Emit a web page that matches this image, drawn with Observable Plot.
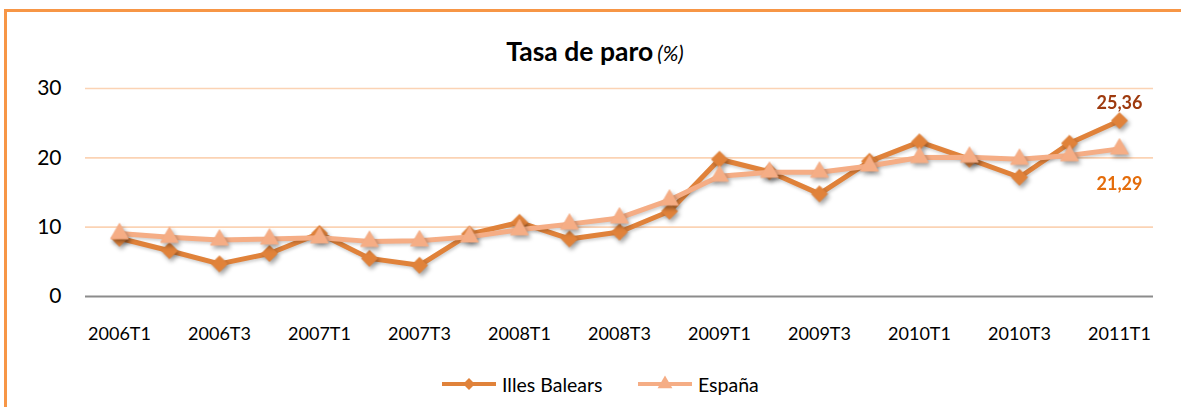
<!DOCTYPE html>
<html>
<head>
<meta charset="utf-8">
<script src="https://cdn.jsdelivr.net/npm/d3@7"></script>
<script src="https://cdn.jsdelivr.net/npm/@observablehq/plot@0.6"></script>
<style>
  html, body { margin: 0; padding: 0; background: #fff; width: 1181px; height: 407px; overflow: hidden; font-family: Lato, "Open Sans", sans-serif; }
  #frame { position: absolute; left: 4px; top: 9px; width: 1400px; height: 600px; border-left: 3px solid #F79646; border-top: 3px solid #F79646; }
  #title { position: absolute; left: 0; width: 1190px; top: 35px; text-align: center; color: #000; white-space: nowrap; }
  #title .main { font-weight: 700; font-size: 26.5px; }
  #title .unit { font-style: italic; font-size: 21px; }
  #chart { position: absolute; left: 0; top: 60px; }
  .leg { position: absolute; top: 372px; display: flex; align-items: center; font-size: 19.5px; color: #000; white-space: nowrap; }
  .leg svg { margin-right: 6px; }
</style>
</head>
<body>
<div id="frame"></div>
<div id="title"><span class="main">Tasa de paro</span> <span class="unit">(%)</span></div>
<div id="chart"></div>
<div id="legend"></div>
<script>
const categories = ["2006T1","2006T2","2006T3","2006T4","2007T1","2007T2","2007T3","2007T4",
  "2008T1","2008T2","2008T3","2008T4","2009T1","2009T2","2009T3","2009T4",
  "2010T1","2010T2","2010T3","2010T4","2011T1"];
const xTickLabels = ["2006T1","2006T3","2007T1","2007T3","2008T1","2008T3","2009T1","2009T3","2010T1","2010T3","2011T1"];
const yTicks = [0, 10, 20, 30];
const seriesNames = ["Illes Balears", "España"];
const balears = [8.4, 6.6, 4.7, 6.2, 9.1, 5.5, 4.5, 9.0, 10.7, 8.3, 9.3, 12.3, 19.8, 18.0, 14.8, 19.5, 22.3, 19.8, 17.2, 22.1, 25.36];
const espana = [9.07, 8.53, 8.15, 8.30, 8.47, 7.95, 8.03, 8.60, 9.63, 10.44, 11.33, 13.91, 17.36, 17.92, 17.93, 18.83, 20.05, 20.09, 19.79, 20.33, 21.29];

const colBal = "#E0823A";
const colEsp = "#F5AD85";

const dataBal = categories.map((c, i) => ({cat: c, v: balears[i]}));
const dataEsp = categories.map((c, i) => ({cat: c, v: espana[i]}));
const fmt = v => v.toFixed(2).replace(".", ",");
const lastBal = [dataBal[dataBal.length - 1]];
const lastEsp = [dataEsp[dataEsp.length - 1]];

const plot = Plot.plot({
  width: 1181,
  height: 290,
  marginLeft: 85,
  marginRight: 28,
  marginTop: 28,
  marginBottom: 54,
  style: { fontFamily: "Lato, 'Open Sans', sans-serif", background: "transparent", overflow: "visible" },
  x: { type: "point", domain: categories, padding: 0.5, label: null },
  y: { domain: [0, 30], label: null },
  marks: [
    Plot.ruleY(yTicks.filter(t => t > 0), { stroke: "#FBD3B4", strokeWidth: 1.6 }),
    Plot.ruleY([0], { stroke: "#8C8C8C", strokeWidth: 2 }),
    Plot.axisX({ ticks: xTickLabels, tickSize: 0, tickPadding: 31, fontSize: 18, fill: "#000", label: null }),
    Plot.axisY({ ticks: yTicks, tickSize: 0, tickPadding: 24, fontSize: 21, fill: "#000", label: null }),
    Plot.line(dataBal, { x: "cat", y: "v", stroke: colBal, strokeWidth: 5, strokeLinejoin: "miter" }),
    Plot.dot(dataBal, { x: "cat", y: "v", symbol: "diamond2", r: 7.2, fill: colBal, stroke: colBal, strokeWidth: 1 }),
    Plot.line(dataEsp, { x: "cat", y: "v", stroke: colEsp, strokeWidth: 5, strokeLinejoin: "miter" }),
    Plot.dot(dataEsp, { x: "cat", y: "v", symbol: "triangle", r: 6.6, fill: colEsp, stroke: colEsp, strokeWidth: 1 }),
    Plot.text(lastBal, { x: "cat", y: "v", text: d => fmt(d.v), dy: -17, fill: "#9E3A0E", fontSize: 18, fontWeight: "bold" }),
    Plot.text(lastEsp, { x: "cat", y: "v", text: d => fmt(d.v), dy: 35, fill: "#E46C0A", fontSize: 18, fontWeight: "bold" })
  ]
});
document.getElementById("chart").appendChild(plot);
d3.select(plot).selectAll('g[aria-label="dot"]').style("filter", "drop-shadow(2px 3px 2px rgba(0,0,0,0.35))");
d3.select(plot).selectAll('g[aria-label="line"]').style("filter", "drop-shadow(1px 2px 1.5px rgba(0,0,0,0.18))");

// Legend
const legend = document.getElementById("legend");
const legItems = [
  { name: seriesNames[0], color: colBal, symbol: d3.symbolDiamond2, size: 90, left: 442 },
  { name: seriesNames[1], color: colEsp, symbol: d3.symbolTriangle, size: 95, left: 638 }
];
legItems.forEach(it => {
  const div = document.createElement("div");
  div.className = "leg";
  div.style.left = it.left + "px";
  const s = d3.create("svg").attr("width", 54).attr("height", 24);
  s.append("line").attr("x1", 0).attr("x2", 54).attr("y1", 12).attr("y2", 12)
    .attr("stroke", it.color).attr("stroke-width", 4);
  s.append("path").attr("d", d3.symbol(it.symbol, it.size)()).attr("transform", "translate(27,12)")
    .attr("fill", it.color);
  div.appendChild(s.node());
  const t = document.createElement("span");
  t.textContent = it.name;
  div.appendChild(t);
  legend.appendChild(div);
});
</script>
</body>
</html>
